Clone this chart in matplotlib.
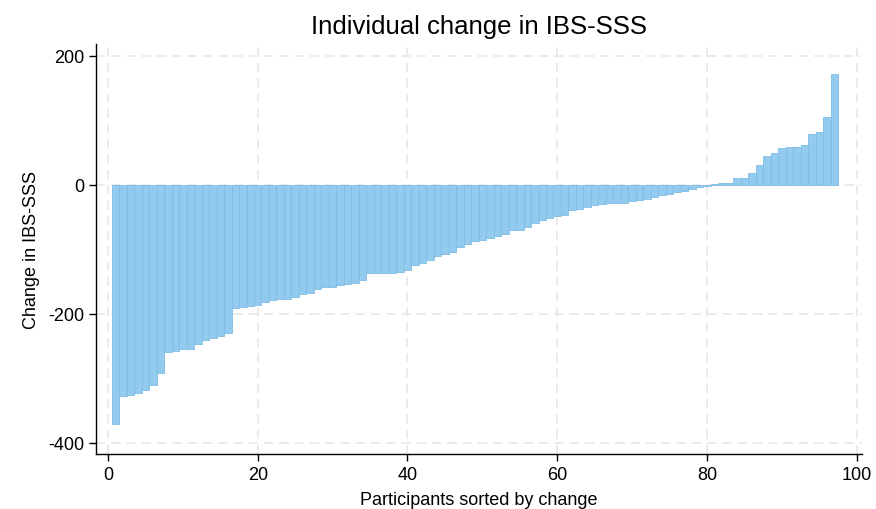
import numpy as np
import matplotlib
matplotlib.use("Agg")
import matplotlib.pyplot as plt

plt.rcParams['font.family'] = ['Liberation Sans', 'DejaVu Sans']
plt.rcParams['axes.unicode_minus'] = False

# change in IBS-SSS per participant, sorted
change = [-371, -327, -326, -323, -318, -310, -292, -259, -258, -255,
          -254, -247, -240, -237, -235, -230, -191, -189, -188, -187,
          -182, -178, -177, -177, -174, -170, -168, -161, -159, -158,
          -155, -154, -152, -147, -137, -137, -137, -137, -136, -132,
          -125, -121, -117, -110, -108, -105, -96, -92, -88, -85,
          -83, -80, -76, -70, -70, -66, -60, -54, -52, -49,
          -47, -40, -37, -35, -32, -30, -29, -29, -29, -26,
          -23, -22, -19, -16, -14, -12, -10, -7, -4, -2,
          1, 3, 3, 10, 10, 18, 30, 45, 49, 57,
          58, 59, 61, 79, 81, 105, 172]
participants = np.arange(1, len(change) + 1)
xticks = [0, 20, 40, 60, 80, 100]
yticks = [-400, -200, 0, 200]

fig = plt.figure(figsize=(8.76, 5.10), dpi=100)
ax = fig.add_axes([0.1096, 0.108, 0.8744, 0.804])

ax.bar(participants, change, width=1.0, color='#93CBEE',
       edgecolor='#7FBCE6', linewidth=0.6, zorder=3)

ax.set_xlim(-1.6, 100.7)
ax.set_ylim(-417, 218)
ax.set_xticks(xticks)
ax.set_yticks(yticks)
ax.grid(True, color='#e6e6e6', linestyle=(0, (6, 4)), linewidth=1.1, zorder=0)

for s in ['top', 'right']:
    ax.spines[s].set_visible(False)
ax.spines['left'].set_linewidth(1.0)
ax.spines['bottom'].set_linewidth(1.0)
ax.tick_params(axis='both', direction='out', length=5, width=1.0,
               labelsize=13, colors='black')

ax.set_title("Individual change in IBS-SSS", fontsize=18.5, pad=8)
ax.set_xlabel("Participants sorted by change", fontsize=13, labelpad=6)
ax.set_ylabel("Change in IBS-SSS", fontsize=13, labelpad=6)

fig.savefig("out.png", dpi=100, facecolor='white')
